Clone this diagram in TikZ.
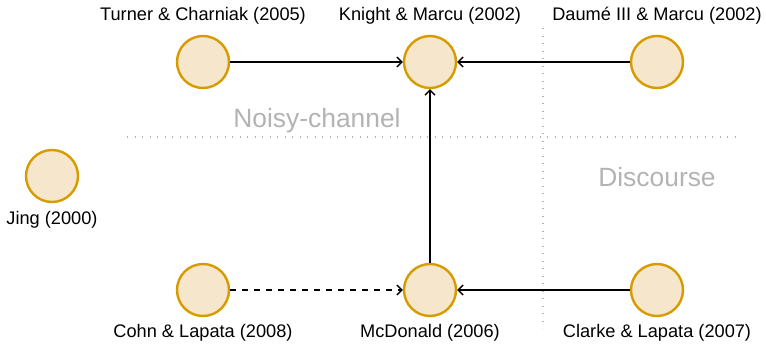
\documentclass[tikz,border=0pt]{standalone}
\usepackage{fontspec}
\setmainfont{Liberation Sans}
\usetikzlibrary{arrows.meta}
\definecolor{paperfill}{HTML}{F5E6CC}
\definecolor{paperline}{HTML}{D79B00}
\definecolor{regiongray}{HTML}{B3B3B3}
\begin{document}
\begin{tikzpicture}[x=1pt,y=-1pt,
  paper/.style={circle,draw=paperline,fill=paperfill,line width=2.4pt,minimum size=52pt,inner sep=0pt},
  lbl/.style={font=\fontsize{18.2}{21}\selectfont,inner sep=0pt},
  region/.style={font=\fontsize{26.4}{30}\selectfont,text=regiongray,inner sep=0pt},
  divider/.style={draw=regiongray,line width=1.3pt,dash pattern=on 1.3pt off 6.2pt},
  cite/.style={line width=1.5pt,-{Straight Barb[length=5pt,width=10pt,line width=1.3pt]}}]
\useasboundingbox (0,0) rectangle (766,343);

% region dividers
\coordinate (hL) at (127,137);
\coordinate (hR) at (735,137);
\coordinate (vT) at (543,28);
\coordinate (vB) at (543,328);
\draw[divider] (hL) -- (hR);
\draw[divider] (vT) -- (vB);
\node[region] (noisy) at (317,121) {Noisy-channel};
\node[region] (disc) at (657,177) {Discourse};

% papers
\node[paper] (turner) at (203,62) {};
\node[paper] (knight) at (430,62) {};
\node[paper] (daume) at (657,62) {};
\node[paper] (jing) at (52,176) {};
\node[paper] (cohn) at (203,290) {};
\node[paper] (mcd) at (430,290) {};
\node[paper] (clarke) at (657,290) {};

% labels
\node[lbl] (lturner) at (203,16) {Turner \& Charniak (2005)};
\node[lbl] (lknight) at (430,16) {Knight \& Marcu (2002)};
\node[lbl] (ldaume) at (657,16) {Daumé III \& Marcu (2002)};
\node[lbl] (ljing) at (52,220) {Jing (2000)};
\node[lbl] (lcohn) at (203,333) {Cohn \& Lapata (2008)};
\node[lbl] (lmcd) at (430,333) {McDonald (2006)};
\node[lbl] (lclarke) at (657,333) {Clarke \& Lapata (2007)};

% citations
\draw[cite] (turner) -- (knight);
\draw[cite] (daume) -- (knight);
\draw[cite] (mcd) -- (knight);
\draw[cite] (clarke) -- (mcd);
\draw[cite,dashed,dash pattern=on 6pt off 6pt] (cohn) -- (mcd);
\end{tikzpicture}
\end{document}
